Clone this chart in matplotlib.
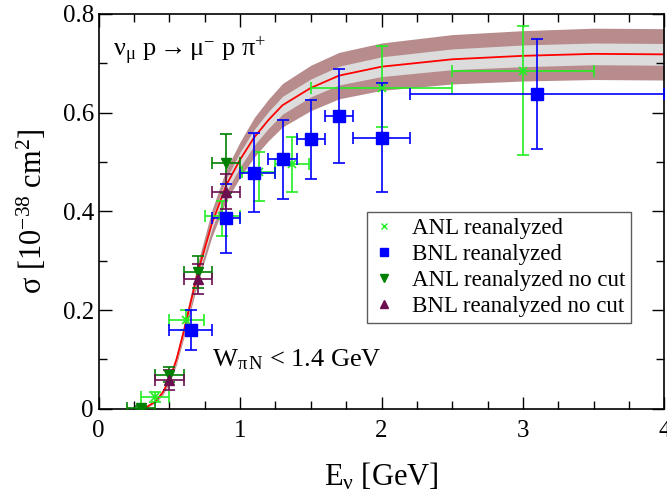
import numpy as np
import matplotlib.pyplot as plt
from matplotlib.lines import Line2D
from matplotlib.ticker import MultipleLocator

# theory curve and bands
curve_x = [0.32, 0.4, 0.45, 0.5, 0.55, 0.6, 0.65, 0.7, 0.8, 0.9, 1.0, 1.1, 1.2,
           1.3, 1.5, 1.7, 2.0, 2.5, 3.0, 3.5, 4.0]
curve_y = [0.0, 0.015, 0.032, 0.058, 0.10, 0.155, 0.215, 0.275, 0.375, 0.452,
           0.505, 0.55, 0.585, 0.615, 0.65, 0.675, 0.693, 0.708, 0.715, 0.719, 0.718]
outer_hw = [0.0, 0.003, 0.005, 0.007, 0.010, 0.013, 0.016, 0.020, 0.027, 0.032,
            0.036, 0.040, 0.042, 0.044, 0.046, 0.047, 0.048, 0.050, 0.051, 0.052, 0.052]
inner_hw = [0.0, 0.001, 0.002, 0.003, 0.004, 0.005, 0.006, 0.008, 0.011, 0.013,
            0.015, 0.016, 0.017, 0.018, 0.018, 0.019, 0.020, 0.021, 0.022, 0.022, 0.022]

# ANL reanalyzed
anl_x = [0.40, 0.62, 0.875, 1.13, 1.37, 2.0, 3.0]
anl_y = [0.024, 0.18, 0.39, 0.48, 0.495, 0.65, 0.685]
anl_xerr = [0.1, 0.125, 0.125, 0.12, 0.12, 0.5, 0.5]
anl_yerr_lo = [0.01, 0.02, 0.04, 0.06, 0.055, 0.08, 0.17]
anl_yerr_hi = [0.01, 0.02, 0.03, 0.04, 0.055, 0.085, 0.09]

# BNL reanalyzed
bnl_x = [0.65, 0.9, 1.1, 1.3, 1.5, 1.7, 2.0, 3.1]
bnl_y = [0.16, 0.386, 0.478, 0.506, 0.546, 0.593, 0.549, 0.638]
bnl_xerr_lo = [0.15, 0.1, 0.1, 0.1, 0.1, 0.1, 0.2, 0.9]
bnl_xerr_hi = [0.15, 0.1, 0.15, 0.1, 0.1, 0.1, 0.2, 0.9]
bnl_yerr = [0.04, 0.07, 0.08, 0.08, 0.08, 0.095, 0.11, 0.112]

# ANL reanalyzed no cut
anlnc_x = [0.3, 0.5, 0.7, 0.9]
anlnc_y = [0.002, 0.069, 0.277, 0.497]
anlnc_xerr = [0.1, 0.1, 0.1, 0.1]
anlnc_yerr = [0.004, 0.015, 0.032, 0.06]

# BNL reanalyzed no cut
bnlnc_x = [0.5, 0.7, 0.9]
bnlnc_y = [0.058, 0.263, 0.44]
bnlnc_xerr = [0.1, 0.1, 0.1]
bnlnc_yerr = [0.02, 0.03, 0.035]

plt.rcParams.update({
    'font.family': 'Liberation Serif',
    'mathtext.fontset': 'custom',
    'mathtext.rm': 'Liberation Serif',
    'mathtext.it': 'Liberation Serif:italic',
    'mathtext.bf': 'Liberation Serif:bold',
    'font.size': 15,
})

LIME = '#22ee22'
BLUE = '#0000ff'
DGREEN = '#008000'
PURPLE = '#6b0f4f'

fig = plt.figure(figsize=(6.67, 4.95), dpi=100)
ax = fig.add_axes([0.148, 0.174, 0.848, 0.798])

cx = np.array(curve_x)
cy = np.array(curve_y)
ax.fill_between(cx, cy - np.array(outer_hw), cy + np.array(outer_hw),
                color='#b88c8c', lw=0, zorder=1)
ax.fill_between(cx, cy - np.array(inner_hw), cy + np.array(inner_hw),
                color='#dcdcdc', lw=0, zorder=1.5)
ax.plot(cx, cy, color='#ff0000', lw=1.3, zorder=2)

ekw = dict(ls='none', elinewidth=1.2, capsize=4, capthick=1.2, zorder=3)
ax.errorbar(anl_x, anl_y, xerr=anl_xerr, yerr=[anl_yerr_lo, anl_yerr_hi],
            fmt='x', color=LIME, ms=6, mew=1.2, **ekw)
ax.errorbar(bnl_x, bnl_y, xerr=[bnl_xerr_lo, bnl_xerr_hi], yerr=bnl_yerr,
            fmt='s', color=BLUE, ms=8, **ekw)
ax.errorbar(anlnc_x, anlnc_y, xerr=anlnc_xerr, yerr=anlnc_yerr,
            fmt='v', color=DGREEN, ms=7, **ekw)
ax.errorbar(bnlnc_x, bnlnc_y, xerr=bnlnc_xerr, yerr=bnlnc_yerr,
            fmt='^', color=PURPLE, ms=7, **ekw)

ax.set_xlim(0, 4)
ax.set_ylim(0, 0.8)
ax.xaxis.set_major_locator(MultipleLocator(1))
ax.xaxis.set_minor_locator(MultipleLocator(0.25))
ax.yaxis.set_major_locator(MultipleLocator(0.2))
ax.yaxis.set_minor_locator(MultipleLocator(0.1))
ax.set_xticks([0, 1, 2, 3, 4])
ax.set_xticklabels(['0', '1', '2', '3', '4'])
ax.set_yticks([0, 0.2, 0.4, 0.6, 0.8])
ax.set_yticklabels(['0', '0.2', '0.4', '0.6', '0.8'])
ax.tick_params(which='both', direction='in', top=True, right=True, labelsize=18)
ax.tick_params(which='major', length=9, width=1)
ax.tick_params(which='minor', length=5.5, width=1)
ax.tick_params(axis='x', pad=8)
for s in ax.spines.values():
    s.set_linewidth(1.2)

ax.set_xlabel(r'E$_\mathrm{ν}$ [GeV]', fontsize=22, labelpad=14)
ax.set_ylabel(r'σ [10$^{-38}$ cm$^2$]', fontsize=22, labelpad=10)

ax.text(0.1, 0.725, r'ν$_\mathrm{μ}$ p$\rightarrow$μ$^{-}$ p π$^{+}$',
        fontsize=19, va='center')
ax.text(0.8, 0.1, r'W$_\mathrm{π\,N}$ < 1.4 GeV', fontsize=19, va='center')

handles = [
    Line2D([0], [0], ls='none', marker='x', color=LIME, ms=5, mew=1),
    Line2D([0], [0], ls='none', marker='s', color=BLUE, ms=6),
    Line2D([0], [0], ls='none', marker='v', color=DGREEN, ms=6),
    Line2D([0], [0], ls='none', marker='^', color=PURPLE, ms=6),
]
labels = ['ANL reanalyzed', 'BNL reanalyzed', 'ANL reanalyzed no cut',
          'BNL reanalyzed no cut']
leg = ax.legend(handles, labels, loc='upper left', bbox_to_anchor=(0.474, 0.499),
                fontsize=16.5, frameon=True, fancybox=False, edgecolor='#333333',
                handlelength=1.0, handletextpad=0.7, borderpad=0.25,
                labelspacing=0.22, borderaxespad=0)
leg.get_frame().set_linewidth(1.0)

fig.savefig('out.png', dpi=100)
